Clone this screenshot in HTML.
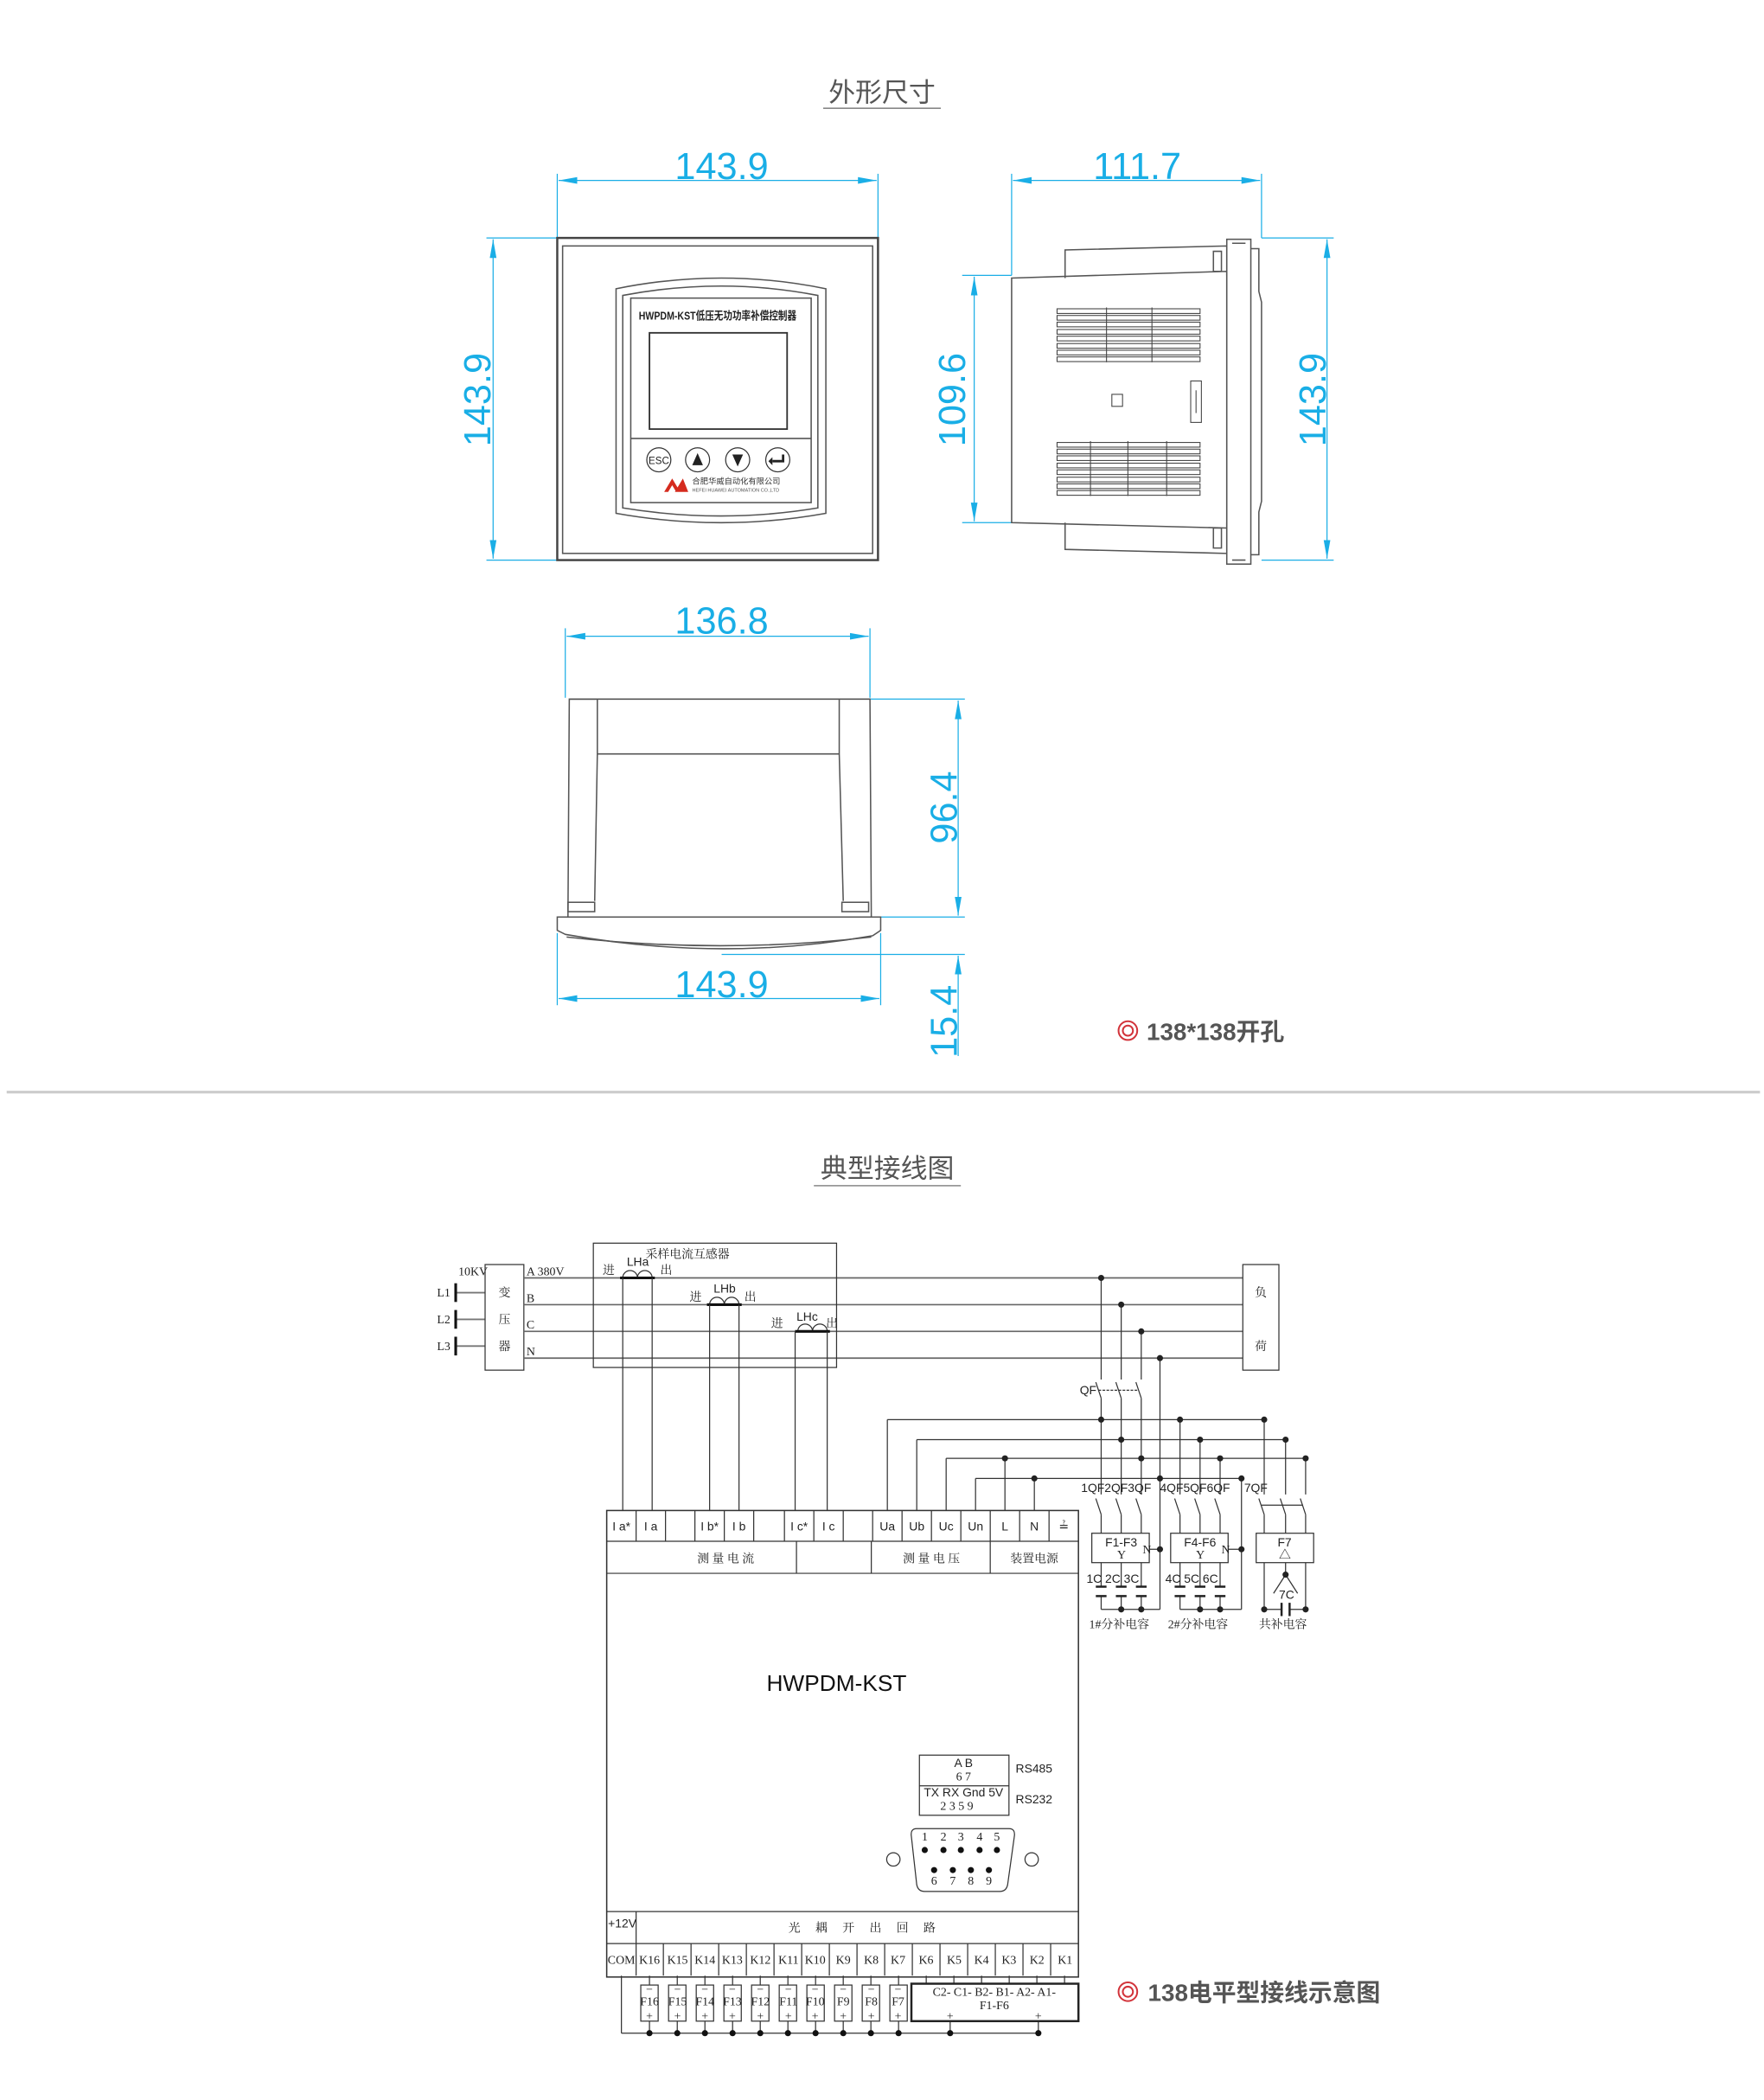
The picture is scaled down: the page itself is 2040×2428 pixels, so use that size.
<!DOCTYPE html>
<html><head><meta charset="utf-8"><style>
html,body{margin:0;padding:0;background:#fff;}
svg{display:block;}
.d{stroke:#1aaee6;stroke-width:0.8;fill:none}
.dt{fill:#19aee6;font-family:"Liberation Sans",sans-serif;font-size:28px}
.g{stroke:#555;stroke-width:1;fill:none}
.w{stroke:#333;stroke-width:0.8;fill:none}
.s{font-family:"Liberation Serif","Noto Serif CJK SC",serif;font-size:9px;fill:#222}
.sn{font-family:"Liberation Sans","Noto Sans CJK SC",sans-serif;font-size:9px;fill:#222}
</style></head><body>
<svg width="2040" height="2428" viewBox="0 0 1320 1571" preserveAspectRatio="none" xmlns="http://www.w3.org/2000/svg">
<defs>
<marker id="a" viewBox="0 0 14 6" refX="14" refY="3" markerWidth="14" markerHeight="6" markerUnits="userSpaceOnUse" orient="auto-start-reverse"><path d="M0,0.5 L14,3 L0,5.5z" fill="#1aaee6"/></marker>
</defs>
<!-- titles -->
<text x="660" y="76" text-anchor="middle" font-family="Liberation Sans,Noto Sans CJK SC,sans-serif" font-size="20" fill="#555">外形尺寸</text>
<line x1="616" y1="81" x2="704" y2="81" stroke="#888" stroke-width="1"/>

<!-- FRONT VIEW -->
<line class="d" x1="417" y1="130" x2="417" y2="178"/><line class="d" x1="657" y1="130" x2="657" y2="178"/>
<line class="d" x1="418" y1="135" x2="656" y2="135" marker-start="url(#a)" marker-end="url(#a)"/>
<text class="dt" x="540" y="134" text-anchor="middle">143.9</text>
<line class="d" x1="364" y1="178" x2="417" y2="178"/><line class="d" x1="364" y1="419" x2="417" y2="419"/>
<line class="d" x1="369" y1="179" x2="369" y2="418" marker-start="url(#a)" marker-end="url(#a)"/>
<text class="dt" transform="translate(367,299) rotate(-90)" text-anchor="middle">143.9</text>
<rect x="417" y="178" width="240" height="241" fill="#fff" stroke="#444" stroke-width="1.6"/>
<rect x="421" y="184" width="232" height="230" class="g"/>
<path class="g" d="M461,216 Q540,200 618,216 L618,384 Q540,398 461,384 Z"/>
<path class="g" d="M466,221 Q540,207 612,221 L612,380 Q540,392 466,380 Z"/>
<rect x="472" y="223" width="135" height="153" class="g" stroke-width="0.8"/>
<text x="537" y="239" text-anchor="middle" font-family="Liberation Sans,Noto Sans CJK SC,sans-serif" font-size="8.5" font-weight="bold" fill="#222" textLength="118" lengthAdjust="spacingAndGlyphs">HWPDM-KST低压无功功率补偿控制器</text>
<rect x="486" y="249" width="103" height="72" fill="#fff" stroke="#333" stroke-width="1.2"/>
<line class="g" x1="472" y1="328" x2="607" y2="328"/>
<g stroke="#333" stroke-width="0.8" fill="#fff">
<circle cx="493" cy="344" r="9"/><circle cx="522" cy="344" r="9"/><circle cx="552" cy="344" r="9"/><circle cx="582" cy="344" r="9"/></g>
<text x="493" y="347" text-anchor="middle" font-family="Liberation Sans,sans-serif" font-size="7.5" fill="#222">ESC</text>
<path d="M518,348 L526,348 L522,339z M548,340 L556,340 L552,349z" fill="#222"/>
<path d="M586,340 L586,345 L578,345" stroke="#222" stroke-width="1.8" fill="none"/><path d="M578,342 L578,348 L575,345z" fill="#222"/>
<path d="M497,368 L503,358 L509,368 L506,368 L503,363 L500,368z M505,368 L511,358 L515,368z" fill="#d52b1e"/>
<text x="518" y="362" font-family="Liberation Sans,Noto Sans CJK SC,sans-serif" font-size="6" fill="#333">合肥华威自动化有限公司</text>
<text x="518" y="368" font-family="Liberation Sans,sans-serif" font-size="3.6" fill="#555">HEFEI HUAWEI AUTOMATION CO.,LTD</text>

<!-- SIDE VIEW -->
<line class="d" x1="757" y1="130" x2="757" y2="206"/><line class="d" x1="944" y1="130" x2="944" y2="178"/>
<line class="d" x1="758" y1="135" x2="943" y2="135" marker-start="url(#a)" marker-end="url(#a)"/>
<text class="dt" x="851" y="134" text-anchor="middle">111.7</text>
<line class="d" x1="720" y1="206" x2="757" y2="206"/><line class="d" x1="720" y1="391" x2="757" y2="391"/>
<line class="d" x1="729" y1="207" x2="729" y2="390" marker-start="url(#a)" marker-end="url(#a)"/>
<text class="dt" transform="translate(722,299) rotate(-90)" text-anchor="middle">109.6</text>
<line class="d" x1="944" y1="178" x2="998" y2="178"/><line class="d" x1="944" y1="419" x2="998" y2="419"/>
<line class="d" x1="993" y1="179" x2="993" y2="418" marker-start="url(#a)" marker-end="url(#a)"/>
<text class="dt" transform="translate(992,299) rotate(-90)" text-anchor="middle">143.9</text>
<path class="g" d="M797,208 L797,187 L918,184 L918,206"/>
<path class="g" d="M908,188 L914,188 L914,203 L908,203z" stroke-width="0.7"/>
<path class="g" d="M797,391 L797,411 L918,414 L918,391"/>
<path class="g" d="M908,395 L914,395 L914,410 L908,410z" stroke-width="0.7"/>
<path class="g" d="M757,208 L918,203 L918,395 L757,391 Z"/>
<rect x="918" y="179" width="18" height="243" class="g"/>
<path class="g" d="M936,186 L942,186 L942,218 L944,226 L944,375 L942,383 L942,415 L936,415"/>
<path class="g" d="M922,182 L932,182 M922,419 L932,419" stroke-width="0.7"/>
<g stroke="#444" stroke-width="0.7" fill="none">
<rect x="791" y="231" width="107" height="3.5"/><rect x="791" y="236" width="107" height="3.5"/><rect x="791" y="241" width="107" height="3.5"/><rect x="791" y="246.5" width="107" height="3.5"/><rect x="791" y="251.5" width="107" height="3.5"/><rect x="791" y="257" width="107" height="3.5"/><rect x="791" y="262" width="107" height="3.5"/><rect x="791" y="267" width="107" height="3.5"/>
<line x1="828" y1="230" x2="828" y2="271"/><line x1="862" y1="230" x2="862" y2="271"/>
<rect x="791" y="331" width="107" height="3.5"/><rect x="791" y="336" width="107" height="3.5"/><rect x="791" y="341" width="107" height="3.5"/><rect x="791" y="346.5" width="107" height="3.5"/><rect x="791" y="351.5" width="107" height="3.5"/><rect x="791" y="357" width="107" height="3.5"/><rect x="791" y="362" width="107" height="3.5"/><rect x="791" y="367" width="107" height="3.5"/>
<line x1="816" y1="330" x2="816" y2="371"/><line x1="844" y1="330" x2="844" y2="371"/><line x1="873" y1="330" x2="873" y2="371"/>
<rect x="832" y="295" width="8" height="9"/><rect x="891" y="285" width="8" height="31"/><line x1="895" y1="292" x2="895" y2="309"/>
</g>

<!-- BOTTOM VIEW -->
<line class="d" x1="423" y1="470" x2="423" y2="522"/><line class="d" x1="651" y1="470" x2="651" y2="522"/>
<line class="d" x1="424" y1="476" x2="650" y2="476" marker-start="url(#a)" marker-end="url(#a)"/>
<text class="dt" x="540" y="474" text-anchor="middle">136.8</text>
<line class="d" x1="651" y1="523" x2="722" y2="523"/><line class="d" x1="657" y1="686" x2="722" y2="686"/>
<line class="d" x1="717" y1="524" x2="717" y2="685" marker-start="url(#a)" marker-end="url(#a)"/>
<text class="dt" transform="translate(716,604) rotate(-90)" text-anchor="middle">96.4</text>
<path class="g" d="M425,686 L426,523 L651,523 L652,686"/>
<path class="g" d="M426,523 L447,523 L447,564 L445,674 M628,523 L628,564 L631,674 M447,564 L628,564"/>
<rect x="425" y="675" width="20" height="7" class="g" stroke-width="0.8"/><rect x="630" y="675" width="20" height="7" class="g" stroke-width="0.8"/>
<path class="g" d="M417,686 L659,686 L659,696 L653,700 Q540,720 423,699 L417,696 Z"/>
<path class="g" d="M424,701 Q540,714 652,701" stroke-width="0.6"/>
<line class="d" x1="417" y1="698" x2="417" y2="752"/><line class="d" x1="659" y1="698" x2="659" y2="752"/>
<line class="d" x1="418" y1="747" x2="658" y2="747" marker-start="url(#a)" marker-end="url(#a)"/>
<text class="dt" x="540" y="746" text-anchor="middle">143.9</text>
<line class="d" x1="540" y1="714" x2="722" y2="714"/>
<line class="d" x1="717" y1="715" x2="717" y2="790" marker-start="url(#a)"/>
<text class="dt" transform="translate(716,764) rotate(-90)" text-anchor="middle">15.4</text>
<circle cx="844" cy="771" r="7" fill="none" stroke="#d2333a" stroke-width="1.3"/><circle cx="844" cy="771" r="3.8" fill="none" stroke="#d2333a" stroke-width="1.3"/>
<text x="858" y="778" font-family="Liberation Sans,Noto Sans CJK SC,sans-serif" font-size="18" font-weight="bold" fill="#555">138*138开孔</text>

<line x1="5" y1="817" x2="1317" y2="817" stroke="#ccc" stroke-width="2"/>

<text x="664" y="881" text-anchor="middle" font-family="Liberation Sans,Noto Sans CJK SC,sans-serif" font-size="20" fill="#555">典型接线图</text>
<line x1="609" y1="887" x2="719" y2="887" stroke="#888" stroke-width="1"/>

<!-- WIRING -->
<text class="s" x="343" y="954" font-size="8">10KV</text>
<g stroke="#777" stroke-width="1.2"><line x1="342" y1="967" x2="363" y2="967"/><line x1="342" y1="987" x2="363" y2="987"/><line x1="342" y1="1007" x2="363" y2="1007"/></g>
<g stroke="#111" stroke-width="2"><line x1="341" y1="960" x2="341" y2="974"/><line x1="341" y1="980" x2="341" y2="994"/><line x1="341" y1="1000" x2="341" y2="1014"/></g>
<text class="s" x="327" y="970">L1</text><text class="s" x="327" y="990">L2</text><text class="s" x="327" y="1010">L3</text>
<rect x="363" y="946" width="29" height="79" class="w"/>
<text class="s" x="373" y="970" font-size="10">变</text><text class="s" x="373" y="990" font-size="10">压</text><text class="s" x="373" y="1010" font-size="10">器</text>
<text class="s" x="394" y="954">A 380V</text><text class="s" x="394" y="974">B</text><text class="s" x="394" y="994">C</text><text class="s" x="394" y="1014">N</text>
<g stroke="#666" stroke-width="1.1"><line x1="392" y1="956" x2="930" y2="956"/><line x1="392" y1="976" x2="930" y2="976"/><line x1="392" y1="996" x2="930" y2="996"/><line x1="392" y1="1016" x2="930" y2="1016"/></g>
<rect x="444" y="930" width="182" height="93" class="w"/>
<text class="s" x="483" y="941" font-size="10">采样电流互感器</text>
<rect x="930" y="946" width="27" height="79" class="w"/>
<text class="s" x="939" y="970" font-size="10">负</text><text class="s" x="939" y="1010" font-size="10">荷</text>
<!-- CTs -->
<g class="w" stroke-width="1"><path d="M466,956 a5.5,5.5 0 0 1 11,0 a5.5,5.5 0 0 1 11,0"/><path d="M531,976 a5.5,5.5 0 0 1 11,0 a5.5,5.5 0 0 1 11,0"/><path d="M597,996 a5.5,5.5 0 0 1 11,0 a5.5,5.5 0 0 1 11,0"/></g>
<g stroke="#111" stroke-width="2"><line x1="464" y1="956" x2="490" y2="956"/><line x1="529" y1="976" x2="555" y2="976"/><line x1="595" y1="996" x2="621" y2="996"/></g>
<text class="sn" x="469" y="947">LHa</text><text class="s" x="451" y="953">进</text><text class="s" x="494" y="953">出</text>
<text class="sn" x="534" y="967">LHb</text><text class="s" x="516" y="973">进</text><text class="s" x="557" y="973">出</text>
<text class="sn" x="596" y="988">LHc</text><text class="s" x="577" y="993">进</text><text class="s" x="618" y="993">出</text>
<g class="w"><line x1="466" y1="956" x2="466" y2="1130"/><line x1="488" y1="956" x2="488" y2="1130"/><line x1="531" y1="976" x2="531" y2="1130"/><line x1="553" y1="976" x2="553" y2="1130"/><line x1="595" y1="996" x2="595" y2="1130"/><line x1="619" y1="996" x2="619" y2="1130"/></g>
<!-- buses -->
<g class="w">
<line x1="664" y1="1062" x2="946" y2="1062"/><line x1="686" y1="1077" x2="962" y2="1077"/><line x1="708" y1="1091" x2="977" y2="1091"/><line x1="730" y1="1106" x2="929" y2="1106"/>
<line x1="664" y1="1062" x2="664" y2="1130"/><line x1="686" y1="1077" x2="686" y2="1130"/><line x1="708" y1="1091" x2="708" y2="1130"/><line x1="730" y1="1106" x2="730" y2="1130"/><line x1="752" y1="1091" x2="752" y2="1130"/><line x1="774" y1="1106" x2="774" y2="1130"/>
<!-- phase verticals with QF -->
<path d="M824,956 V1032 M839,976 V1032 M854,996 V1032"/>
<path d="M820,1034 L824,1046 M835,1034 L839,1046 M850,1034 L854,1046"/>
<path d="M822,1040 H852" stroke-dasharray="2,1"/>
<path d="M824,1046 V1118 M839,1046 V1118 M854,1046 V1118 M883,1062 V1118 M898,1077 V1118 M913,1091 V1118 M946,1062 V1118 M962,1077 V1118 M977,1091 V1118"/>
<path d="M820,1121 L824,1133 M835,1121 L839,1133 M850,1121 L854,1133 M879,1121 L883,1133 M894,1121 L898,1133 M909,1121 L913,1133 M942,1121 L946,1133 M958,1121 L962,1133 M973,1121 L977,1133"/>
<path d="M944,1126 H975"/>
<path d="M824,1133 V1147 M839,1133 V1147 M854,1133 V1147 M883,1133 V1147 M898,1133 V1147 M913,1133 V1147 M946,1133 V1147 M962,1133 V1147 M977,1133 V1147"/>
<path d="M868,1016 V1204 M929,1106 V1204 M860,1159 H868 M919,1159 H929"/>
<rect x="817" y="1147" width="43" height="22"/><rect x="876" y="1147" width="43" height="22"/><rect x="940" y="1147" width="43" height="22"/>
<path d="M824,1169 V1187 M839,1169 V1187 M854,1169 V1187 M883,1169 V1187 M898,1169 V1187 M913,1169 V1187"/>
<path d="M824,1194 V1204 M839,1194 V1204 M854,1194 V1204 M883,1194 V1204 M898,1194 V1204 M913,1194 V1204 M824,1204 H868 M883,1204 H929"/>
<path d="M946,1169 V1204 M977,1169 V1204 M946,1204 H959 M965,1204 H977 M962,1169 V1178 M962,1178 L953,1192 M962,1178 L971,1192"/>
</g>
<g stroke="#222" stroke-width="1.6"><path d="M820,1187 h8 M835,1187 h8 M850,1187 h8 M879,1187 h8 M894,1187 h8 M909,1187 h8 M820,1194 h8 M835,1194 h8 M850,1194 h8 M879,1194 h8 M894,1194 h8 M909,1194 h8 M959,1199 v10 M965,1199 v10"/></g>
<g fill="#222">
<circle cx="824" cy="956" r="2.3"/><circle cx="839" cy="976" r="2.3"/><circle cx="854" cy="996" r="2.3"/><circle cx="868" cy="1016" r="2.3"/>
<circle cx="824" cy="1062" r="2.3"/><circle cx="883" cy="1062" r="2.3"/><circle cx="946" cy="1062" r="2.3"/>
<circle cx="839" cy="1077" r="2.3"/><circle cx="898" cy="1077" r="2.3"/><circle cx="962" cy="1077" r="2.3"/>
<circle cx="752" cy="1091" r="2.3"/><circle cx="854" cy="1091" r="2.3"/><circle cx="913" cy="1091" r="2.3"/><circle cx="977" cy="1091" r="2.3"/>
<circle cx="774" cy="1106" r="2.3"/><circle cx="868" cy="1106" r="2.3"/><circle cx="929" cy="1106" r="2.3"/>
<circle cx="868" cy="1159" r="2.3"/><circle cx="929" cy="1159" r="2.3"/>
<circle cx="839" cy="1204" r="2.3"/><circle cx="854" cy="1204" r="2.3"/><circle cx="898" cy="1204" r="2.3"/><circle cx="913" cy="1204" r="2.3"/>
<circle cx="962" cy="1178" r="2.3"/><circle cx="946" cy="1204" r="2.3"/><circle cx="977" cy="1204" r="2.3"/>
</g>
<text class="sn" x="808" y="1043" font-size="7">QF</text>
<text class="sn" x="809" y="1116" font-size="7">1QF2QF3QF</text><text class="sn" x="868" y="1116" font-size="7">4QF5QF6QF</text><text class="sn" x="931" y="1116" font-size="7">7QF</text>
<text class="sn" x="827" y="1157" font-size="9">F1-F3</text><text class="s" x="836" y="1166" font-size="8">Y</text><text class="s" x="855" y="1162" font-size="7">N</text>
<text class="sn" x="886" y="1157" font-size="9">F4-F6</text><text class="s" x="895" y="1166" font-size="8">Y</text><text class="s" x="914" y="1162" font-size="7">N</text>
<text class="sn" x="956" y="1157" font-size="9">F7</text><text class="s" x="957" y="1166" font-size="8">△</text>
<text class="sn" x="813" y="1184" font-size="7">1C 2C 3C</text><text class="sn" x="872" y="1184" font-size="7">4C 5C 6C</text><text class="sn" x="957" y="1196" font-size="7">7C</text>
<text class="s" x="815" y="1218" font-size="9.5">1#分补电容</text><text class="s" x="874" y="1218" font-size="9.5">2#分补电容</text><text class="s" x="942" y="1218" font-size="9.5">共补电容</text>

<!-- device -->
<rect x="454" y="1130" width="353" height="349" fill="none" stroke="#333" stroke-width="1"/>
<g class="w">
<path d="M454,1153 H807 M454,1177 H807 M596,1153 V1177 M652,1153 V1177 M741,1153 V1177"/>
<path d="M476,1130 V1153 M498,1130 V1153 M520,1130 V1153 M542,1130 V1153 M564,1130 V1153 M587,1130 V1153 M609,1130 V1153 M631,1130 V1153 M653,1130 V1153 M675,1130 V1153 M697,1130 V1153 M719,1130 V1153 M741,1130 V1153 M763,1130 V1153 M785,1130 V1153"/>
<path d="M454,1430 H807 M454,1454 H807 M476,1430 V1478"/>
<path d="M496.4,1454 V1478 M517.1,1454 V1478 M537.8,1454 V1478 M558.5,1454 V1478 M579.2,1454 V1478 M599.9,1454 V1478 M620.6,1454 V1478 M641.3,1454 V1478 M662,1454 V1478 M682.7,1454 V1478 M703.4,1454 V1478 M724.1,1454 V1478 M744.8,1454 V1478 M765.5,1454 V1478 M786.2,1454 V1478"/>
</g>
<g class="sn" text-anchor="middle" font-size="8.5">
<text x="465" y="1145">I a*</text><text x="487" y="1145">I a</text><text x="531" y="1145">I b*</text><text x="553" y="1145">I b</text><text x="598" y="1145">I c*</text><text x="620" y="1145">I c</text>
<text x="664" y="1145">Ua</text><text x="686" y="1145">Ub</text><text x="708" y="1145">Uc</text><text x="730" y="1145">Un</text><text x="752" y="1145">L</text><text x="774" y="1145">N</text><text x="796" y="1145">≟</text>
</g>
<text class="s" x="543" y="1169" text-anchor="middle">测 量 电 流</text>
<text class="s" x="697" y="1169" text-anchor="middle">测 量 电 压</text>
<text class="s" x="774" y="1169" text-anchor="middle">装置电源</text>
<text x="626" y="1265" text-anchor="middle" font-family="Liberation Sans,sans-serif" font-size="17" fill="#111">HWPDM-KST</text>
<rect x="688" y="1313" width="67" height="45" class="w"/><line class="w" x1="688" y1="1336" x2="755" y2="1336"/>
<text class="sn" x="721" y="1322" text-anchor="middle">A B</text><text class="s" x="721" y="1332" text-anchor="middle" font-size="8">6 7</text>
<text class="sn" x="721" y="1344" text-anchor="middle" font-size="9">TX RX Gnd 5V</text><text class="s" x="716" y="1354" text-anchor="middle" font-size="8">2 3 5 9</text>
<text class="sn" x="760" y="1326">RS485</text><text class="sn" x="760" y="1349">RS232</text>
<path class="w" d="M686,1368 H755 Q760,1368 759,1374 L754,1410 Q753,1415 748,1415 H692 Q687,1415 686,1410 L682,1374 Q681,1368 686,1368 Z"/>
<circle cx="668.5" cy="1391" r="5" class="w"/><circle cx="772" cy="1391" r="5" class="w"/>
<g fill="#111"><circle cx="692" cy="1384" r="2.3"/><circle cx="706" cy="1384" r="2.3"/><circle cx="719" cy="1384" r="2.3"/><circle cx="733" cy="1384" r="2.3"/><circle cx="746" cy="1384" r="2.3"/>
<circle cx="699" cy="1399" r="2.3"/><circle cx="713" cy="1399" r="2.3"/><circle cx="726.5" cy="1399" r="2.3"/><circle cx="740" cy="1399" r="2.3"/></g>
<g class="s" font-size="8" text-anchor="middle"><text x="692" y="1377">1</text><text x="706" y="1377">2</text><text x="719" y="1377">3</text><text x="733" y="1377">4</text><text x="746" y="1377">5</text>
<text x="699" y="1410">6</text><text x="713" y="1410">7</text><text x="726.5" y="1410">8</text><text x="740" y="1410">9</text></g>
<text class="sn" x="455" y="1442" font-size="8">+12V</text>
<text class="s" x="645" y="1445" text-anchor="middle" font-size="9">光　 耦　 开　 出　 回　 路</text>
<g class="s" text-anchor="middle" font-size="8.5">
<text x="465" y="1469">COM</text><text x="486" y="1469">K16</text><text x="507" y="1469">K15</text><text x="527.5" y="1469">K14</text><text x="548" y="1469">K13</text><text x="569" y="1469">K12</text><text x="590" y="1469">K11</text><text x="610" y="1469">K10</text><text x="631" y="1469">K9</text><text x="652" y="1469">K8</text><text x="672" y="1469">K7</text><text x="693" y="1469">K6</text><text x="714" y="1469">K5</text><text x="734.5" y="1469">K4</text><text x="755" y="1469">K3</text><text x="776" y="1469">K2</text><text x="797" y="1469">K1</text>
</g>
<!-- fuses -->
<g class="w">
<path d="M486,1478 V1485 M506.8,1478 V1485 M527.5,1478 V1485 M548.2,1478 V1485 M568.9,1478 V1485 M589.6,1478 V1485 M610.3,1478 V1485 M631,1478 V1485 M651.7,1478 V1485 M672.4,1478 V1485 M693.1,1478 V1484 M713.8,1478 V1484 M734.5,1478 V1484 M755.2,1478 V1484 M775.9,1478 V1484 M796.6,1478 V1484"/>
<rect x="479.5" y="1485" width="13" height="27"/><rect x="500.3" y="1485" width="13" height="27"/><rect x="521" y="1485" width="13" height="27"/><rect x="541.7" y="1485" width="13" height="27"/><rect x="562.4" y="1485" width="13" height="27"/><rect x="583.1" y="1485" width="13" height="27"/><rect x="603.8" y="1485" width="13" height="27"/><rect x="624.5" y="1485" width="13" height="27"/><rect x="645.2" y="1485" width="13" height="27"/><rect x="665.9" y="1485" width="13" height="27"/>
<path d="M486,1512 V1521 M506.8,1512 V1521 M527.5,1512 V1521 M548.2,1512 V1521 M568.9,1512 V1521 M589.6,1512 V1521 M610.3,1512 V1521 M631,1512 V1521 M651.7,1512 V1521 M672.4,1512 V1521 M711,1512 V1521 M777,1512 V1521 M465,1478 V1521 M465,1521 H777"/>
</g>
<rect x="682" y="1484" width="125" height="28" fill="none" stroke="#222" stroke-width="1.6"/>
<g class="s" font-size="7.5" text-anchor="middle">
<text x="486" y="1500">F16</text><text x="507" y="1500">F15</text><text x="527.5" y="1500">F14</text><text x="548" y="1500">F13</text><text x="569" y="1500">F12</text><text x="590" y="1500">F11</text><text x="610" y="1500">F10</text><text x="631" y="1500">F9</text><text x="652" y="1500">F8</text><text x="672" y="1500">F7</text>
</g>
<g class="s" font-size="6" text-anchor="middle">
<text x="486" y="1491">−</text><text x="507" y="1491">−</text><text x="527.5" y="1491">−</text><text x="548" y="1491">−</text><text x="569" y="1491">−</text><text x="590" y="1491">−</text><text x="610" y="1491">−</text><text x="631" y="1491">−</text><text x="652" y="1491">−</text><text x="672" y="1491">−</text>
<text x="486" y="1511">+</text><text x="507" y="1511">+</text><text x="527.5" y="1511">+</text><text x="548" y="1511">+</text><text x="569" y="1511">+</text><text x="590" y="1511">+</text><text x="610" y="1511">+</text><text x="631" y="1511">+</text><text x="652" y="1511">+</text><text x="672" y="1511">+</text>
<text x="711" y="1511">+</text><text x="777" y="1511">+</text>
</g>
<text class="s" x="744" y="1493" text-anchor="middle" font-size="8.5">C2- C1- B2- B1- A2- A1-</text>
<text class="s" x="744" y="1503" text-anchor="middle" font-size="8.5">F1-F6</text>
<g fill="#111"><circle cx="486" cy="1521" r="2.3"/><circle cx="506.8" cy="1521" r="2.3"/><circle cx="527.5" cy="1521" r="2.3"/><circle cx="548.2" cy="1521" r="2.3"/><circle cx="568.9" cy="1521" r="2.3"/><circle cx="589.6" cy="1521" r="2.3"/><circle cx="610.3" cy="1521" r="2.3"/><circle cx="631" cy="1521" r="2.3"/><circle cx="651.7" cy="1521" r="2.3"/><circle cx="672.4" cy="1521" r="2.3"/><circle cx="711" cy="1521" r="2.3"/><circle cx="777" cy="1521" r="2.3"/></g>

<circle cx="844" cy="1490" r="7" fill="none" stroke="#d2333a" stroke-width="1.3"/><circle cx="844" cy="1490" r="3.8" fill="none" stroke="#d2333a" stroke-width="1.3"/>
<text x="859" y="1497" font-family="Liberation Sans,Noto Sans CJK SC,sans-serif" font-size="18" font-weight="bold" fill="#555">138电平型接线示意图</text>
</svg>
</body></html>
